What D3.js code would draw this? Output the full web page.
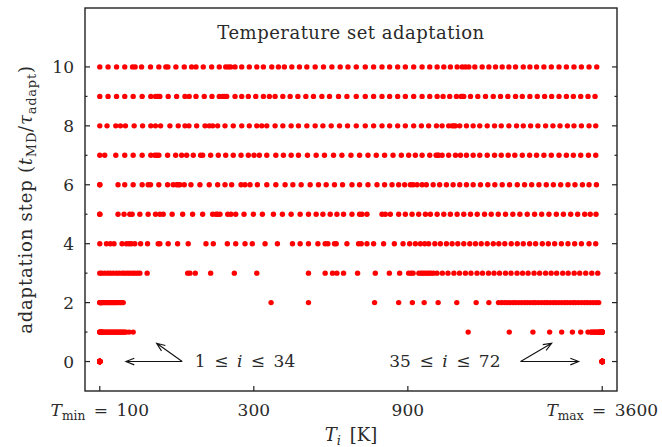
<!DOCTYPE html>
<meta charset="utf-8" />
<style>
  body { margin: 0; background: #fff; }
  svg text { font-family: "DejaVu Serif", "Liberation Serif", serif; fill: #2a2a2a; }
  .frame { fill: none; stroke: #222; stroke-width: 1.4px; }
  .tick { stroke: #222; stroke-width: 1.2px; }
  .arrow { fill: none; stroke: #111; stroke-width: 1.1px; }
  .dot { fill: #ff0000; }
</style>
<body>
<script src="https://d3js.org/d3.v7.min.js"></script>
<script>
  // temperatures (K) of the 72 replicas at each adaptation step
  const steps = [0, 1, 2, 3, 4, 5, 6, 7, 8, 9, 10];

  const step0 = [100,100,100,100,100,100,100,100,100,100,100,100,100,100,100,100,100,
    100,100,100,100,100,100,100,100,100,100,100,100,100,100,100,100,100,
    3600,3600,3600,3600,3600,3600,3600,3600,3600,3600,3600,3600,3600,3600,3600,3600,3600,3600,3600,
    3600,3600,3600,3600,3600,3600,3600,3600,3600,3600,3600,3600,3600,3600,3600,3600,3600,3600,3600];
  const step1 = [100,100,100,100.4,100.7,101.1,101.4,101.8,102.2,102.9,103.6,104.4,105.1,105.9,106.6,
    107.4,108.2,108.9,109.7,110.5,111.3,112.1,112.9,113.7,114.5,115.3,116.2,117,117.8,118.7,119.5,
    120.8,123.3,126.9,
    1384,1855,2196,2474,2696,2910,3088,3253,3317,3341,3365,3396,3413,3437,3462,3487,3512,3519,
    3537,3549,3562,3575,3588,3600,3600,3600,3600,3600,3600,3600,3600,3600,3600,3600,3600,3600,3600,3600];
  const step2 = [100,100,100.4,100.7,101.1,101.4,101.8,102.5,103.3,104,104.7,105.5,106.3,107,107.8,
    108.6,109.3,110.1,110.9,111.7,112.5,113.3,114.5,115.7,117,118.2,339.3,443,
    709.9,842.9,929.5,1011,1117,1276,1465,1604,
    1718,1756,1793,1826,1865,1906,1940,1982,2025,2069,2107,2152,2199,2238,2286,2337,2387,2430,
    2483,2537,2582,2638,2696,2754,2804,2865,2927,2979,3043,3110,3177,3235,3305,3377,3449,3511];
  const step3 = [100,101.4,103.6,105.9,107.9,110.1,112.7,114.9,117.5,119.5,121.8,123.9,126.3,128.4,
    130.9,133.1,140.2,187.2,190.2,197.6,220.5,261.1,306.4,443,499.1,525.9,542.6,568.9,
    628.8,713.5,788.7,848.8,905.3,920.9,934.2,973.7,989.1,1002,1016,1031,1046,1061,1080,1108,
    1151,1198,1250,1301,1357,1412,1474,1533,1600,1664,1731,1806,1879,1961,2040,2122,2214,2304,
    2404,2501,2601,2716,2824,2947,3066,3200,3341,3487];
  const step4 = [100,104.9,107.8,110.7,117.2,121,123.3,125.2,128.4,133.8,140.6,151.7,153.5,162.9,
    174.2,187.9,213.3,224.7,248.4,263.7,281.8,296.8,325.1,355,395.2,417.5,443,473.8,499.1,508.8,
    533.4,540,582.8,
    633.3,645.6,672.4,704.9,757.1,817.3,869.7,911.7,949.6,984.2,1015,1044,1091,1135,1185,1234,
    1285,1341,1400,1458,1519,1585,1655,1722,1797,1881,1964,2050,2145,2238,2348,2451,2564,2690,
    2820,2958,3103,3277,3437];
  const step5 = [100,100,113.9,118.9,123.9,126,133.1,141.2,148.8,153.5,157.2,167.6,180.6,193.9,
    208.3,223.7,229,231.5,235.7,249.1,254.9,263.7,279.8,299.1,318.9,345,367.9,391.5,417.5,443,
    468,491,517.3,542.6,568.9,
    604.1,637.8,648.8,672.4,748.5,766.3,794.3,842.9,884.1,927.5,972.4,1020,1057,1109,1163,1219,
    1279,1341,1407,1476,1555,1631,1715,1806,1903,2001,2109,2222,2337,2462,2595,2729,2875,3022,
    3177,3305,3445];
  const step6 = [100,100,113.9,119.5,126.9,135.3,141.2,143.6,152.4,162.2,168.8,173,175.2,177.1,
    182.7,191.6,204.3,218.3,231.8,244.3,256.2,273.9,281.8,292,307.7,329.1,351,375,396.3,420.5,
    448.4,475.8,502.7,533.4,564.8,
    604.1,637.8,677.3,722.2,762.5,804,842.9,879.7,916.3,934.2,961.2,996.2,1027,1078,1129,1185,
    1243,1303,1367,1434,1511,1592,1674,1764,1859,1964,2069,2176,2292,2416,2541,2677,2820,2964,
    3126,3277,3454];
  const step7 = [100,103.6,112.1,119.5,126.9,135.3,143.9,148.1,150.2,152.4,162.2,171.8,179.3,185.8,
    194.8,205.3,208.3,220.5,232.9,245.5,259.1,273.9,288.5,300.5,312.1,329.1,351,370.5,391.5,412.5,
    439.8,468,496.6,529.7,562.4,
    599.8,637.8,677.3,718.6,762.5,809.8,859.2,905.3,949.6,996.2,1052,1101,1112,1121,1149,1204,
    1264,1310,1367,1434,1503,1585,1670,1752,1841,1930,2036,2145,2254,2375,2504,2645,2788,2930,
    3088,3263,3437];
  const step8 = [100,105.3,112.1,115.9,120.1,127.8,135.7,143.9,148.8,154.3,164.9,175,183.6,188.9,
    199.6,211.8,218.3,223.7,231.8,244.3,259.1,275.2,290.5,306.4,317.5,329.1,349.2,369,391.5,412.5,
    437.9,464.7,491,521,552.8,585.4,
    623,664.3,704.9,748.5,790.3,836.8,884.1,938.2,991.3,1044,1104,1149,1204,1234,1250,1264,1303,
    1367,1434,1503,1585,1670,1752,1850,1954,2050,2160,2275,2404,2533,2664,2808,2943,3103,3277,3437];
  const step9 = [100,106.1,112.7,119.5,126.9,135.3,143.9,148.8,151.3,153.5,162.9,173,183.6,189.2,
    198.6,210.7,222.6,234.5,240.3,243.4,247.3,262.4,275.2,288.5,304.2,321.2,335.2,349.2,369,388.7,
    410.7,434.8,459.1,487.5,514.7,548.9,582.8,
    623,664.3,704.9,748.5,790.3,836.8,884.1,938.2,996.2,1052,1109,1157,1213,1273,1317,1329,1341,
    1407,1482,1566,1655,1743,1836,1940,2036,2149,2265,2387,2510,2645,2788,2930,3088,3253,3420];
  const step10 = [100,106.1,112.7,119.5,126.3,128.7,134.7,143.6,152.4,160.2,162.5,172.1,182.7,192.5,
    198.6,209.2,222.1,234.5,245.5,250.1,254.4,262.4,275.2,290.5,306.4,321.2,341,357.5,373.1,393.4,
    415.4,437.9,464.7,493.1,523.6,555.6,587,
    623,664.3,704.9,748.5,790.3,836.8,884.1,938.2,996.2,1052,1109,1163,1219,1279,1326,1357,1390,
    1451,1529,1604,1682,1764,1850,1940,2050,2149,2254,2375,2504,2645,2788,2943,3103,3277,3462];

  const stepTemps = [step0, step1, step2, step3, step4, step5, step6, step7, step8, step9, step10];

  const sp = '\u2002'; // en space, a bit wider like TeX math spacing
  const xTicks = [100, 300, 900, 3600];
  const xTickLabels = [
    [{ t: 'T', it: true }, { t: 'min', sub: true }, { t: sp + '=' + sp + '100' }],
    [{ t: '300' }],
    [{ t: '900' }],
    [{ t: 'T', it: true }, { t: 'max', sub: true }, { t: sp + '=' + sp + '3600' }]
  ];
  const yMajor = [0, 2, 4, 6, 8, 10];
  const yMinor = [1, 3, 5, 7, 9];

  // replica-index annotations: text anchor and arrows (tail -> heads) in data units
  const annoLabels = [
    [{ t: '1' + sp + '≤' + sp }, { t: 'i', it: true }, { t: sp + '≤' + sp + '34' }],
    [{ t: '35' + sp + '≤' + sp }, { t: 'i', it: true }, { t: sp + '≤' + sp + '72' }]
  ];
  const annoText = [[197, -0.2, 'start'], [1743, -0.2, 'end']];
  const annoTail = [[180, 0], [2011, 0]];
  const annoHeads = [[[120.5, 0], [150, 0.62]], [[3044, 0], [2510, 0.62]]];

  const width = 662, height = 447;
  const margin = { top: 8, right: 45, bottom: 56, left: 85 };
  const fs = 17;

  const x = d3.scaleLog().domain([90, 4000]).range([margin.left, width - margin.right]);
  const y = d3.scaleLinear().domain([-1, 12]).range([height - margin.bottom, margin.top]);
  const midX = (x.range()[0] + x.range()[1]) / 2;

  const svg = d3.select('body').append('svg')
    .attr('width', width)
    .attr('height', height);

  // writes a small piece of math as tspans (italic letters, subscripts)
  function mathText(sel, parts) {
    let low = false;
    parts.forEach(p => {
      const ts = sel.append('tspan').text(p.t);
      if (p.it) ts.style('font-style', 'italic');
      if (p.sub && !low) { ts.attr('dy', 4); low = true; }
      else if (!p.sub && low) { ts.attr('dy', -4); low = false; }
      if (p.sub) ts.attr('font-size', '0.72em');
    });
    return sel;
  }

  // dots
  steps.forEach((s, k) => {
    svg.append('g')
      .selectAll('circle')
      .data(stepTemps[k])
      .join('circle')
      .attr('class', 'dot')
      .attr('cx', d => x(d))
      .attr('cy', y(s))
      .attr('r', 2.7);
  });

  // frame
  svg.append('rect')
    .attr('class', 'frame')
    .attr('x', x.range()[0])
    .attr('y', y.range()[1])
    .attr('width', x.range()[1] - x.range()[0])
    .attr('height', y.range()[0] - y.range()[1]);

  // y ticks, inward on both sides
  const yt = svg.append('g');
  yMajor.concat(yMinor).forEach(v => {
    const len = yMajor.includes(v) ? 5 : 2.5;
    yt.append('line').attr('class', 'tick')
      .attr('x1', x.range()[0]).attr('x2', x.range()[0] + len)
      .attr('y1', y(v)).attr('y2', y(v));
    yt.append('line').attr('class', 'tick')
      .attr('x1', x.range()[1]).attr('x2', x.range()[1] - len)
      .attr('y1', y(v)).attr('y2', y(v));
  });
  yt.selectAll('text')
    .data(yMajor)
    .join('text')
    .attr('x', x.range()[0] - 11)
    .attr('y', d => y(d))
    .attr('dy', '0.36em')
    .attr('text-anchor', 'end')
    .attr('font-size', fs)
    .text(d => d);

  // x ticks, inward at the bottom
  const xt = svg.append('g');
  xTicks.forEach((v, i) => {
    xt.append('line').attr('class', 'tick')
      .attr('x1', x(v)).attr('x2', x(v))
      .attr('y1', y.range()[0]).attr('y2', y.range()[0] - 5);
    mathText(xt.append('text')
      .attr('x', x(v))
      .attr('y', y.range()[0] + 25)
      .attr('text-anchor', 'middle')
      .attr('font-size', fs), xTickLabels[i]);
  });

  // axis titles
  mathText(svg.append('text')
    .attr('x', midX)
    .attr('y', 441)
    .attr('text-anchor', 'middle')
    .attr('font-size', 18),
    [{ t: 'T', it: true }, { t: 'i', it: true, sub: true }, { t: sp + '[K]' }]);

  mathText(svg.append('text')
    .attr('transform', 'translate(32,' + (y.range()[0] + y.range()[1]) / 2 + ') rotate(-90)')
    .attr('text-anchor', 'middle')
    .attr('font-size', 18)
    .style('letter-spacing', '0.8px'),
    [{ t: 'adaptation step (' }, { t: 't', it: true }, { t: 'MD', sub: true }, { t: '/' },
     { t: 'τ', it: true }, { t: 'adapt', sub: true }, { t: ')' }]);

  // title inside the frame
  svg.append('text')
    .attr('x', midX)
    .attr('y', 39)
    .attr('text-anchor', 'middle')
    .attr('font-size', 18)
    .style('letter-spacing', '0.5px')
    .text('Temperature set adaptation');

  // annotations with arrows
  function arrow(g, x0, y0, x1, y1) {
    const a = Math.atan2(y1 - y0, x1 - x0), L = 9, w = 0.38;
    g.append('path').attr('class', 'arrow')
      .attr('d', 'M' + x0 + ',' + y0 + 'L' + x1 + ',' + y1 +
        'M' + (x1 - L * Math.cos(a - w)) + ',' + (y1 - L * Math.sin(a - w)) +
        'L' + x1 + ',' + y1 +
        'L' + (x1 - L * Math.cos(a + w)) + ',' + (y1 - L * Math.sin(a + w)));
  }
  const ann = svg.append('g');
  annoLabels.forEach((lab, i) => {
    mathText(ann.append('text')
      .attr('x', x(annoText[i][0]))
      .attr('y', y(annoText[i][1]))
      .attr('text-anchor', annoText[i][2])
      .attr('font-size', fs), lab);
    annoHeads[i].forEach(h => {
      arrow(ann, x(annoTail[i][0]), y(annoTail[i][1]), x(h[0]), y(h[1]));
    });
  });
</script>
</body>
